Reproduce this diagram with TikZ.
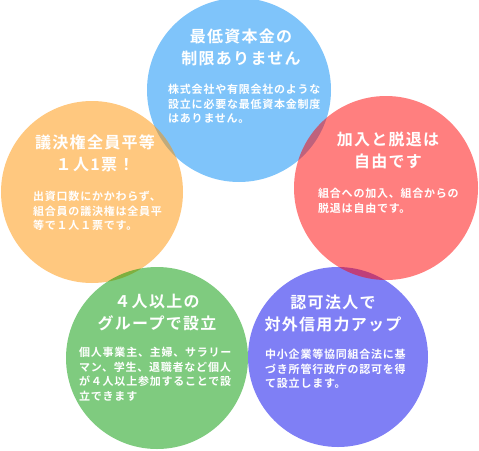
\documentclass[tikz,border=0pt]{standalone}
\usepackage{fontspec}
\setmainfont{Noto Sans CJK JP}[BoldFont={Noto Sans CJK JP Bold}]
\definecolor{cblue}{RGB}{0,138,245}
\definecolor{corange}{RGB}{255,145,0}
\definecolor{cred}{RGB}{255,0,0}
\definecolor{cgreen}{RGB}{0,152,0}
\definecolor{cpurple}{RGB}{0,0,235}
\begin{document}
\begin{tikzpicture}[x=1pt,y=-1pt,
  disc/.style={fill=#1,fill opacity=0.5,draw=none},
  ttl/.style={text=white,font=\fontsize{16}{21.5}\selectfont\bfseries\addfontfeature{LetterSpace=8},align=center,anchor=north,inner sep=0pt},
  bdy/.style={text=white,font=\fontsize{11}{14.5}\selectfont\bfseries\addfontfeature{LetterSpace=7},align=left,anchor=north west,inner sep=0pt}]
\useasboundingbox (0,0) rectangle (479,450);
% circles (draw order gives the overlap colours)
\fill[disc=cblue]   (239,90)  circle (92pt);
\fill[disc=corange] (92,192)  circle (91pt);
\fill[disc=cgreen]  (157,358) circle (91pt);
\fill[disc=cpurple] (338,357) circle (90pt);
\fill[disc=cred]    (386,188) circle (92pt);
% blue
\node[ttl] (t1) at (241,29) {最低資本金の\\制限ありません};
\node[bdy] (b1) at (168,84) {株式会社や有限会社のような\\設立に必要な最低資本金制度\\はありません。};
% orange
\node[ttl] (t2) at (95,135) {議決権全員平等\\１人1票！};
\node[bdy] (b2) at (33,191) {出資口数にかかわらず、\\組合員の議決権は全員平\\等で１人１票です。};
% red
\node[ttl] (t3) at (388,132) {加入と脱退は\\自由です};
\node[bdy] (b3) at (318,188) {組合への加入、組合からの\\脱退は自由です。};
% green
\node[ttl] (t4) at (157,294) {４人以上の\\グループで設立};
\node[bdy] (b4) at (79,347) {個人事業主、主婦、サラリー\\マン、学生、退職者など個人\\が４人以上参加することで設\\立できます};
% purple
\node[ttl] (t5) at (333,295) {認可法人で\\対外信用力アップ};
\node[bdy] (b5) at (265,349) {中小企業等協同組合法に基\\づき所管行政庁の認可を得\\て設立します。};
\end{tikzpicture}
\end{document}
